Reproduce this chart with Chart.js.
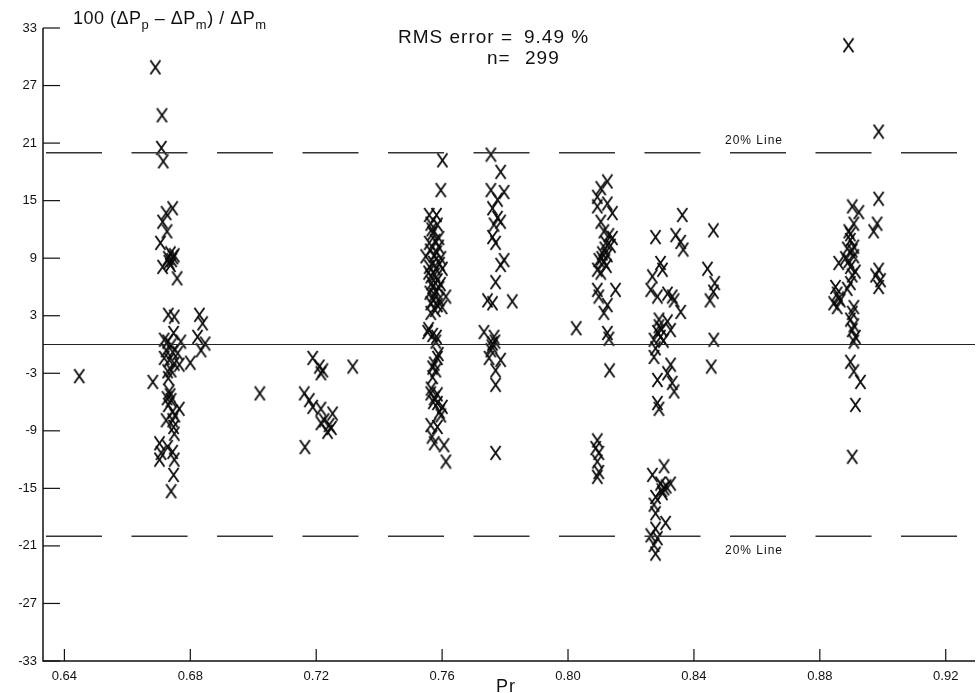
<!DOCTYPE html>
<html>
<head>
<meta charset="utf-8">
<script src="https://cdn.jsdelivr.net/npm/chart.js@4.4.1/dist/chart.umd.min.js"></script>
<style>
  html, body { margin: 0; padding: 0; background: #fff; }
  #wrap { width: 977px; height: 693px; position: relative; }
</style>
</head>
<body>
<div id="wrap"><canvas id="chart" width="977" height="693"></canvas></div>
<script>
// axis ranges and tick labels
const xMin = 0.6332, xMax = 0.9293;
const yMin = -33, yMax = 33;
const xTicks = [0.64, 0.68, 0.72, 0.76, 0.80, 0.84, 0.88, 0.92];
const yTicks = [33, 27, 21, 15, 9, 3, -3, -9, -15, -21, -27, -33];
const refLevels = [20, 0, -20];

// measured points, Pr vs percent deviation, grouped by Pr cluster
const lone = [[0.6447, -3.3], [0.6689, 28.9], [0.6710, 23.9], [0.6708, 20.5], [0.6714, 19.1],
  [0.7021, -5.1], [0.7316, -2.3], [0.8026, 1.7], [0.8891, 31.2], [0.8987, 22.2]];

const pr067 = [
  [0.6744, 14.2], [0.6723, 13.7], [0.6712, 12.8], [0.6726, 11.8], [0.6705, 10.6], [0.6737, 9.5],
  [0.6749, 9.3], [0.6730, 9.0], [0.6741, 8.8], [0.6712, 8.1], [0.6737, 8.3], [0.6758, 6.9],
  [0.6745, 9.1], [0.6732, 8.6],
  [0.6730, 3.1], [0.6749, 2.9], [0.6829, 3.1], [0.6839, 2.2], [0.6747, 1.2], [0.6728, 0.3],
  [0.6770, 0.3], [0.6823, 0.8], [0.6847, 0.1], [0.6834, -0.6], [0.6723, -0.6], [0.6744, -0.8],
  [0.6760, -0.9], [0.6717, -1.4], [0.6733, -1.6], [0.6749, -2.0], [0.6765, -2.1], [0.6800, -1.9],
  [0.6728, -2.8], [0.6739, -2.7], [0.6681, -3.9], [0.6730, -3.5], [0.6739, -0.1], [0.6717, 0.5],
  [0.6733, -4.9], [0.6726, -5.6], [0.6739, -5.8], [0.6730, -6.3], [0.6765, -6.7], [0.6744, -7.0],
  [0.6723, -7.9], [0.6744, -7.9], [0.6747, -8.6], [0.6749, -9.3], [0.6702, -10.3], [0.6728, -10.7],
  [0.6707, -11.3], [0.6744, -11.2], [0.6702, -12.0], [0.6749, -12.0], [0.6747, -13.6], [0.6739, -15.3],
  [0.6736, -5.3], [0.6751, -7.4]
];

const pr072 = [
  [0.7189, -1.4], [0.7210, -2.3], [0.7215, -3.0], [0.7162, -5.1], [0.7178, -5.8], [0.7189, -6.5],
  [0.7215, -6.7], [0.7252, -7.2], [0.7225, -7.9], [0.7241, -8.4], [0.7236, -9.1], [0.7215, -8.2],
  [0.7164, -10.7], [0.7221, -2.7], [0.7248, -8.7]
];

const pr076 = [
  [0.7601, 19.2], [0.7596, 16.1], [0.7559, 13.5], [0.7582, 13.5], [0.7564, 12.6], [0.7585, 12.5],
  [0.7570, 11.6], [0.7590, 11.1], [0.7559, 10.6], [0.7589, 10.2], [0.7548, 9.2], [0.7575, 9.3],
  [0.7596, 9.0], [0.7559, 8.1], [0.7580, 7.9], [0.7601, 7.9], [0.7564, 7.1], [0.7585, 6.7],
  [0.7570, 6.0], [0.7590, 5.9], [0.7575, 5.2], [0.7612, 5.0], [0.7564, 4.3], [0.7585, 4.1],
  [0.7564, 3.3], [0.7554, 1.3], [0.7570, 1.0], [0.7580, 0.3], [0.7585, -1.4], [0.7575, -2.0],
  [0.7580, -2.7], [0.7570, -3.4], [0.7564, -5.1], [0.7575, -5.6], [0.7585, -6.1], [0.7601, -6.5],
  [0.7596, -7.4], [0.7564, -8.4], [0.7585, -8.6], [0.7575, -10.3], [0.7606, -10.5], [0.7612, -12.2],
  [0.7567, 12.0], [0.7578, 10.8], [0.7562, 9.8], [0.7583, 9.6], [0.7572, 8.5], [0.7592, 8.4],
  [0.7557, 7.5], [0.7577, 7.3], [0.7567, 6.4], [0.7595, 6.3], [0.7580, 5.6], [0.7561, 5.4],
  [0.7590, 4.7], [0.7572, 4.6], [0.7600, 3.9], [0.7578, 3.6], [0.7557, 1.6], [0.7582, 0.8],
  [0.7588, -1.0], [0.7570, -2.4], [0.7565, -4.6], [0.7585, -5.2], [0.7572, -6.0], [0.7592, -7.0],
  [0.7568, -9.6]
];

const pr078 = [
  [0.7755, 19.8], [0.7786, 18.0], [0.7755, 16.1], [0.7797, 15.9], [0.7776, 15.1], [0.7760, 14.2],
  [0.7776, 13.2], [0.7786, 12.8], [0.7765, 12.5], [0.7760, 11.2], [0.7770, 10.6], [0.7797, 8.8],
  [0.7786, 8.3], [0.7770, 6.5], [0.7744, 4.6], [0.7760, 4.3], [0.7823, 4.5], [0.7733, 1.3],
  [0.7765, 0.8], [0.7760, 0.1], [0.7755, -0.6], [0.7749, -1.4], [0.7786, -1.6], [0.7770, -2.7],
  [0.7770, -4.2], [0.7770, -11.3], [0.7768, 0.3], [0.7758, -0.2]
];

const pr081 = [
  [0.8125, 17.0], [0.8104, 16.3], [0.8093, 15.4], [0.8125, 14.7], [0.8093, 14.4], [0.8141, 13.7],
  [0.8104, 12.8], [0.8114, 11.8], [0.8130, 11.4], [0.8141, 11.1], [0.8120, 10.6], [0.8109, 9.5],
  [0.8125, 9.3], [0.8098, 8.8], [0.8114, 8.6], [0.8093, 7.8], [0.8151, 5.7], [0.8093, 5.7],
  [0.8098, 5.0], [0.8125, 4.1], [0.8114, 3.3], [0.8125, 1.2], [0.8130, 0.6], [0.8132, -2.7],
  [0.8117, 10.0], [0.8107, 9.0], [0.8122, 8.2], [0.8135, 10.3], [0.8104, 7.5],
  [0.8093, -10.0], [0.8088, -10.8], [0.8098, -11.3], [0.8093, -12.2], [0.8098, -13.3], [0.8093, -13.8]
];

const pr083 = [
  [0.8278, 11.2], [0.8363, 13.5], [0.8342, 11.4], [0.8358, 10.7], [0.8366, 9.9], [0.8294, 8.5],
  [0.8300, 7.8], [0.8268, 7.1], [0.8263, 5.7], [0.8284, 5.0], [0.8316, 5.3], [0.8331, 5.0],
  [0.8337, 4.6], [0.8358, 3.4], [0.8316, 2.4], [0.8289, 1.9], [0.8284, 1.3], [0.8326, 1.5],
  [0.8294, 0.8], [0.8273, 0.5], [0.8278, -0.4], [0.8273, -1.3], [0.8326, -2.1], [0.8316, -3.0],
  [0.8284, -3.7], [0.8331, -4.0], [0.8337, -4.9], [0.8284, -6.1], [0.8289, -6.7],
  [0.8297, 1.6], [0.8303, 0.4], [0.8289, 2.6],
  [0.8305, -12.7], [0.8268, -13.6], [0.8294, -14.5], [0.8326, -14.5], [0.8305, -15.0], [0.8300, -15.5],
  [0.8278, -15.9], [0.8273, -16.7], [0.8278, -17.6], [0.8310, -18.6], [0.8278, -19.2], [0.8263, -19.9],
  [0.8284, -20.2], [0.8273, -20.9], [0.8278, -21.8], [0.8312, -14.8], [0.8298, -15.2]
];

const pr085 = [
  [0.8462, 11.9], [0.8443, 7.9], [0.8466, 6.4], [0.8462, 5.5], [0.8451, 4.6], [0.8463, 0.5], [0.8455, -2.3]
];

const pr089 = [
  [0.8987, 15.2], [0.8903, 14.4], [0.8924, 13.8], [0.8908, 12.6], [0.8982, 12.6], [0.8971, 11.8],
  [0.8892, 11.8], [0.8897, 10.9], [0.8908, 10.2], [0.8887, 10.0], [0.8881, 9.0], [0.8908, 9.2],
  [0.8860, 8.5], [0.8897, 8.1], [0.8987, 7.8], [0.8977, 7.2], [0.8993, 6.7], [0.8903, 7.2],
  [0.8897, 6.4], [0.8987, 6.0], [0.8850, 6.0], [0.8855, 5.3], [0.8860, 4.8], [0.8844, 4.3],
  [0.8855, 3.9], [0.8908, 3.9], [0.8903, 3.3], [0.8897, 2.6], [0.8903, 1.5], [0.8913, 0.8],
  [0.8908, 0.3], [0.8897, -1.8], [0.8908, -2.8], [0.8929, -3.9], [0.8913, -6.3], [0.8903, -11.7],
  [0.8897, 11.5], [0.8903, 9.8], [0.8892, 8.7], [0.8913, 7.6], [0.8887, 5.8], [0.8908, 2.0], [0.8865, 4.6]
];

const allPoints = [].concat(lone, pr067, pr072, pr076, pr078, pr081, pr083, pr085, pr089)
  .map(p => ({ x: p[0], y: p[1] }));

// X glyph used as marker
const mark = document.createElement('canvas');
mark.width = 13; mark.height = 16;
(function () {
  const c = mark.getContext('2d');
  c.strokeStyle = '#0a0a0a';
  c.lineWidth = 1.8;
  c.beginPath();
  c.moveTo(1.5, 1); c.lineTo(11.5, 15);
  c.moveTo(11.5, 1); c.lineTo(1.5, 15);
  c.stroke();
})();

const FONT = '"Liberation Sans", Arial, sans-serif';

function subText(ctx, parts, x, y) {
  // parts: [text, isSub]
  parts.forEach(p => {
    ctx.font = p[1] ? '13px ' + FONT : '18px ' + FONT;
    ctx.fillText(p[0], x, p[1] ? y + 5 : y);
    x += ctx.measureText(p[0]).width;
  });
}

const frame = {
  id: 'frame',
  afterDraw(chart) {
    const ctx = chart.ctx;
    const xs = chart.scales.x, ys = chart.scales.y;
    const a = chart.chartArea;
    ctx.save();
    ctx.strokeStyle = '#111';
    ctx.fillStyle = '#111';
    ctx.lineWidth = 1.5;
    ctx.beginPath();
    ctx.moveTo(a.left, a.top); ctx.lineTo(a.left, a.bottom); ctx.lineTo(a.right, a.bottom);
    ctx.stroke();

    ctx.lineWidth = 1.2;
    ctx.font = '13px ' + FONT;
    ctx.textAlign = 'right';
    ctx.textBaseline = 'middle';
    yTicks.forEach(v => {
      const py = ys.getPixelForValue(v);
      ctx.beginPath(); ctx.moveTo(a.left, py); ctx.lineTo(a.left + 17, py); ctx.stroke();
      ctx.fillText(String(v), a.left - 6, py);
    });
    ctx.textAlign = 'center';
    ctx.textBaseline = 'top';
    xTicks.forEach(v => {
      const px = xs.getPixelForValue(v);
      ctx.beginPath(); ctx.moveTo(px, a.bottom); ctx.lineTo(px, a.bottom - 12); ctx.stroke();
      ctx.fillText(v.toFixed(2), px, a.bottom + 9);
    });

    ctx.textAlign = 'left';
    ctx.textBaseline = 'alphabetic';
    ctx.letterSpacing = '0.5px';
    subText(ctx, [['100 (\u0394P', 0], ['p', 1], [' \u2013 \u0394P', 0], ['m', 1], [') / \u0394P', 0], ['m', 1]], 73, 24);

    ctx.letterSpacing = '1px';
    ctx.font = '19px ' + FONT;
    ctx.fillText('RMS error =', 398, 43);
    ctx.fillText('9.49 %', 524, 43);
    ctx.fillText('n=', 487, 64);
    ctx.fillText('299', 525, 64);

    ctx.font = '12px ' + FONT;
    ctx.fillText('20% Line', 725, 144);
    ctx.fillText('20% Line', 725, 554);

    ctx.font = '18px ' + FONT;
    ctx.fillText('Pr', 496, 692);
    ctx.restore();
  }
};

const refSets = refLevels.map(v => ({
  type: 'line',
  data: [{ x: xMin, y: v }, { x: xMax, y: v }],
  borderColor: v === 0 ? '#222' : '#333',
  borderWidth: v === 0 ? 1 : 1.5,
  borderDash: v === 0 ? [] : [56, 29.5],
  borderDashOffset: 82.5,
  pointRadius: 0,
  fill: false
}));

new Chart(document.getElementById('chart'), {
  type: 'scatter',
  data: {
    datasets: [
      ...refSets,
      { data: allPoints, pointStyle: mark, pointRadius: 6, showLine: false }
    ]
  },
  options: {
    responsive: false,
    animation: false,
    layout: { autoPadding: false, padding: { left: 43, right: 2, top: 28, bottom: 32 } },
    plugins: { legend: { display: false }, tooltip: { enabled: false } },
    scales: {
      x: { type: 'linear', min: xMin, max: xMax, display: false },
      y: { type: 'linear', min: yMin, max: yMax, display: false }
    }
  },
  plugins: [frame]
});
</script>
</body>
</html>
